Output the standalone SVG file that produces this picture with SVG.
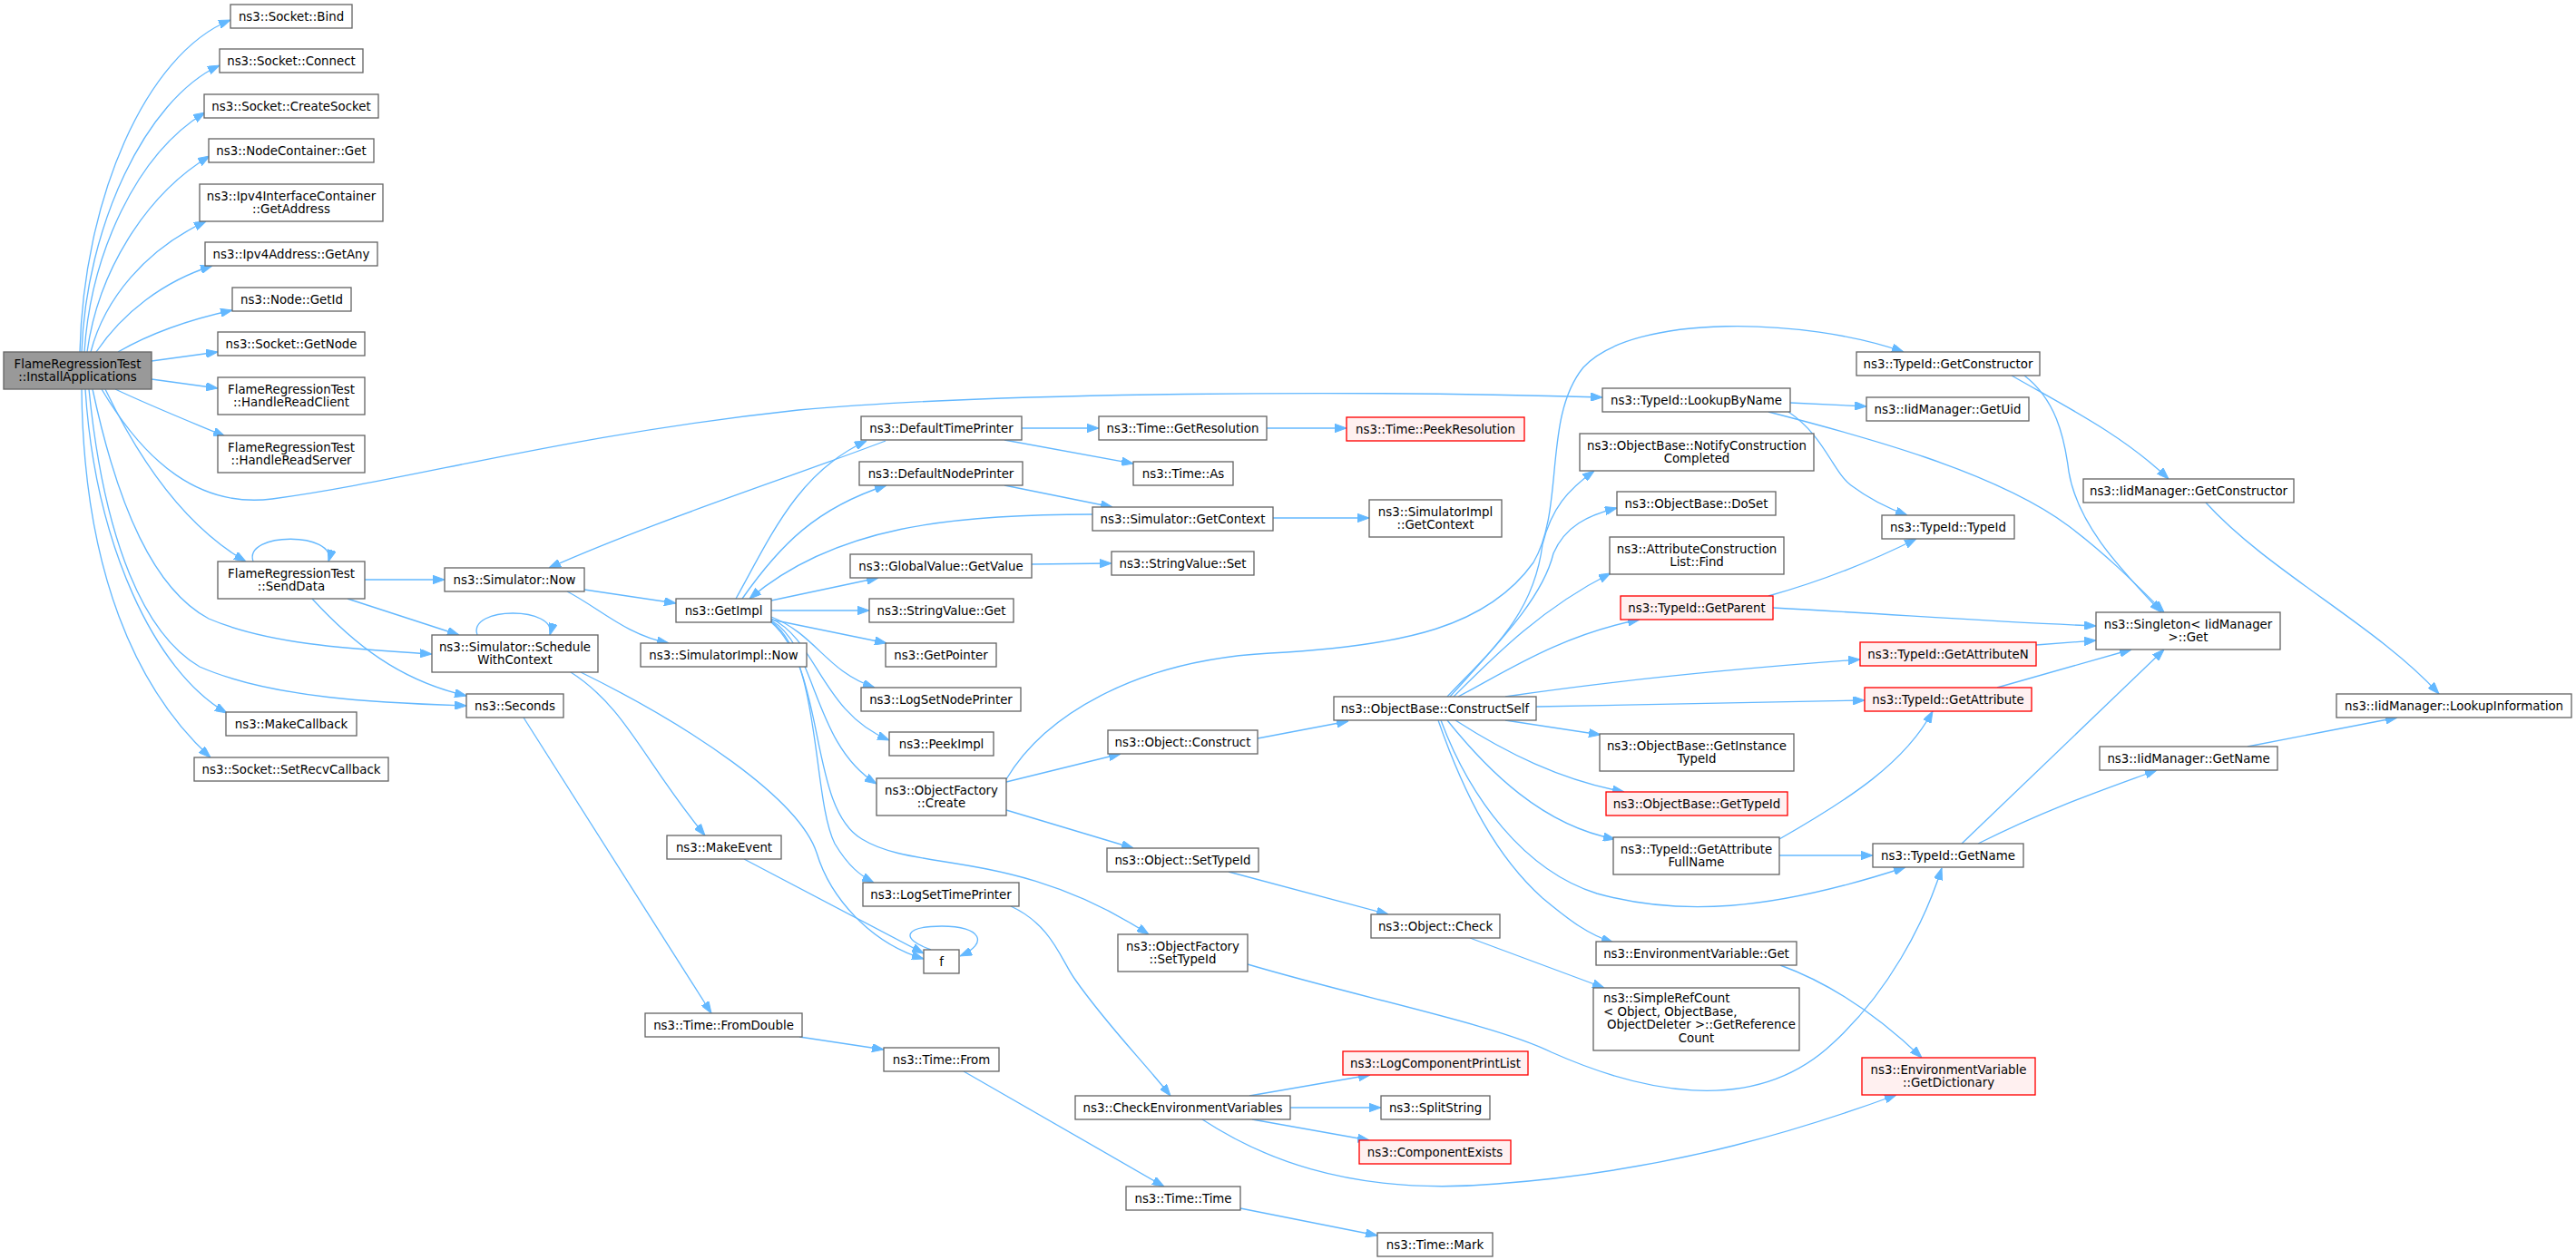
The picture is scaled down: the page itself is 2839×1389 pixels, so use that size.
<svg xmlns="http://www.w3.org/2000/svg" width="2839" height="1389" viewBox="0 0 2839 1389">
<style>
.n rect{fill:#ffffff;stroke:#666666;stroke-width:1.33}
.r rect{fill:#fff0f0;stroke:#ff0000;stroke-width:1.33}
.m rect{fill:#999999;stroke:#666666;stroke-width:1.33}
text{font-family:"DejaVu Sans","Liberation Sans",sans-serif;font-size:13.33px;fill:#000000;text-anchor:middle}
.e path{fill:none;stroke:#63b8ff;stroke-width:1.33;marker-end:url(#ah)}
</style>
<defs>
<marker id="ah" viewBox="0 0 13 9.4" refX="13" refY="4.7" markerWidth="13" markerHeight="9.4" markerUnits="userSpaceOnUse" orient="auto"><path d="M0,0 L13,4.7 L0,9.4 z" fill="#63b8ff" stroke="#63b8ff" stroke-width="1"/></marker>
</defs>
<rect x="0" y="0" width="2839" height="1389" fill="#ffffff"/>
<g id="edges" class="e">
<path d="M88,388 C92,220 160,60 254,22"/>
<path d="M90,388 C95,250 160,110 242,72"/>
<path d="M93,388 C100,280 150,170 226,124"/>
<path d="M96,388 C108,300 160,215 231,172"/>
<path d="M100,388 C115,330 160,275 227,244"/>
<path d="M106,388 C135,345 180,310 234,293"/>
<path d="M130,388 C170,365 210,352 256,342"/>
<path d="M167,398 L240,388"/>
<path d="M167,418 L240,428"/>
<path d="M127,429 C165,447 205,463 248,481"/>
<path d="M112,429 C160,510 220,560 300,550 C450,530 620,480 880,452 C1100,432 1500,430 1766,438"/>
<path d="M116,429 C150,500 200,578 271,619"/>
<path d="M102,429 C130,560 170,650 230,682 C300,712 400,716 476,721"/>
<path d="M98,429 C115,600 160,700 220,735 C300,770 420,775 514,778"/>
<path d="M94,429 C105,600 170,740 250,786"/>
<path d="M90,429 C92,630 150,760 232,835"/>
<path d="M279,619 C268,586 372,586 362,619"/>
<path d="M402,639 L490,639"/>
<path d="M383,660 L506,700"/>
<path d="M344,660 C390,710 440,750 514,767"/>
<path d="M644,650 L745,665"/>
<path d="M625,652 C660,670 690,700 737,709"/>
<path d="M976,486 C860,530 720,575 605,626"/>
<path d="M526,700 C515,668 615,668 606,700"/>
<path d="M629,741 C690,780 710,840 777,921"/>
<path d="M640,741 C760,800 880,880 900,940 C915,990 960,1040 1018,1057"/>
<path d="M577,791 L784,1117"/>
<path d="M811,660 C850,590 880,520 955,486"/>
<path d="M818,660 C860,600 900,560 977,535"/>
<path d="M1204,567 C1050,567 920,580 826,660"/>
<path d="M850,662 L968,637"/>
<path d="M850,673 L958,673"/>
<path d="M850,683 L977,709"/>
<path d="M850,680 C900,700 910,740 964,758"/>
<path d="M850,682 C900,705 905,785 980,816"/>
<path d="M850,684 C900,712 895,820 966,864"/>
<path d="M850,685 C905,725 895,880 920,930 C935,955 948,965 963,973"/>
<path d="M850,686 C912,740 890,890 950,925 C1010,962 1120,935 1266,1030"/>
<path d="M1126,472 L1211,472"/>
<path d="M1107,485 L1249,511"/>
<path d="M1107,535 L1226,559"/>
<path d="M1403,571 L1509,571"/>
<path d="M1396,472 L1484,472"/>
<path d="M1137,622 L1225,621"/>
<path d="M1109,862 L1235,831"/>
<path d="M1109,859 C1150,790 1250,728 1400,720 C1550,712 1640,690 1690,620 C1725,560 1700,460 1745,405 C1800,345 1990,350 2098,388"/>
<path d="M1109,893 L1249,935"/>
<path d="M1386,814 L1486,795"/>
<path d="M1354,961 L1530,1008"/>
<path d="M1375,1063 C1500,1100 1650,1130 1710,1160 C1800,1200 1930,1235 2020,1150 C2080,1095 2120,1020 2140,957"/>
<path d="M1114,999 C1160,1020 1170,1060 1185,1080 C1220,1130 1260,1170 1290,1208"/>
<path d="M1377,1208 L1510,1185"/>
<path d="M1422,1221 L1522,1221"/>
<path d="M1380,1234 L1509,1257"/>
<path d="M1325,1234 C1380,1270 1480,1320 1650,1305 C1850,1290 2000,1240 2090,1207"/>
<path d="M881,1143 L974,1157"/>
<path d="M1062,1181 L1283,1308"/>
<path d="M1367,1332 L1518,1362"/>
<path d="M820,947 L1018,1051"/>
<path d="M1026,1047 C990,1034 998,1021 1038,1021 C1082,1021 1090,1040 1058,1054"/>
<path d="M1595,768 C1640,720 1690,680 1700,600 C1710,560 1728,540 1757,519"/>
<path d="M1598,768 C1650,710 1700,660 1712,610 C1725,580 1750,568 1782,560"/>
<path d="M1602,768 C1650,720 1700,670 1775,632"/>
<path d="M1607,768 C1660,740 1720,700 1807,683"/>
<path d="M1659,768 C1780,750 1900,738 2050,727"/>
<path d="M1693,779 L2055,772"/>
<path d="M1659,794 L1764,810"/>
<path d="M1604,794 C1660,830 1720,860 1790,873"/>
<path d="M1595,794 C1640,850 1700,910 1780,925"/>
<path d="M1588,794 C1620,880 1680,960 1760,985 C1850,1010 1950,1005 2100,956"/>
<path d="M1585,794 C1615,880 1650,945 1700,990 C1730,1015 1750,1030 1778,1039"/>
<path d="M1961,943 L2064,943"/>
<path d="M1961,925 C2040,880 2100,840 2130,784"/>
<path d="M1620,1034 L1768,1089"/>
<path d="M1962,1064 C2020,1085 2070,1120 2118,1166"/>
<path d="M1973,444 L2057,448"/>
<path d="M1971,454 C2010,480 2020,520 2040,535 C2060,550 2080,560 2102,568"/>
<path d="M1949,454 C2050,480 2200,520 2280,580 C2320,610 2350,640 2385,675"/>
<path d="M1949,657 C2010,640 2060,620 2112,594"/>
<path d="M1954,670 C2100,678 2200,686 2310,690"/>
<path d="M2244,711 L2310,706"/>
<path d="M2201,758 L2349,716"/>
<path d="M2162,930 L2385,716"/>
<path d="M2180,930 C2260,890 2320,870 2377,849"/>
<path d="M2231,414 C2265,440 2275,480 2280,520 C2290,580 2340,630 2382,675"/>
<path d="M2217,414 C2280,450 2340,480 2390,528"/>
<path d="M2431,554 C2500,630 2620,690 2688,765"/>
<path d="M2477,823 L2642,791"/>
</g>
<g id="n_ia" class="m"><rect x="4" y="388" width="163" height="41"/><text x="85.5" y="406">FlameRegressionTest</text><text x="85.5" y="420.4">::InstallApplications</text></g>
<g id="n_bind" class="n"><rect x="254" y="5" width="134" height="26"/><text x="321" y="22.6">ns3::Socket::Bind</text></g>
<g id="n_connect" class="n"><rect x="242" y="54" width="158" height="26"/><text x="321" y="71.6">ns3::Socket::Connect</text></g>
<g id="n_createsocket" class="n"><rect x="225" y="104" width="192" height="26"/><text x="321" y="121.6">ns3::Socket::CreateSocket</text></g>
<g id="n_ncget" class="n"><rect x="230" y="153" width="182" height="26"/><text x="321" y="170.6">ns3::NodeContainer::Get</text></g>
<g id="n_getaddress" class="n"><rect x="220" y="203" width="202" height="41"/><text x="321" y="220.9">ns3::Ipv4InterfaceContainer</text><text x="321" y="235.4">::GetAddress</text></g>
<g id="n_getany" class="n"><rect x="226" y="267" width="190" height="26"/><text x="321" y="284.6">ns3::Ipv4Address::GetAny</text></g>
<g id="n_getid" class="n"><rect x="256" y="317" width="131" height="26"/><text x="321.5" y="334.6">ns3::Node::GetId</text></g>
<g id="n_getnode" class="n"><rect x="240" y="366" width="162" height="26"/><text x="321" y="383.6">ns3::Socket::GetNode</text></g>
<g id="n_hrc" class="n"><rect x="240" y="416" width="162" height="41"/><text x="321" y="433.9">FlameRegressionTest</text><text x="321" y="448.4">::HandleReadClient</text></g>
<g id="n_hrs" class="n"><rect x="240" y="480" width="162" height="41"/><text x="321" y="497.9">FlameRegressionTest</text><text x="321" y="512.4">::HandleReadServer</text></g>
<g id="n_senddata" class="n"><rect x="240" y="619" width="162" height="41"/><text x="321" y="636.9">FlameRegressionTest</text><text x="321" y="651.4">::SendData</text></g>
<g id="n_makecallback" class="n"><rect x="249" y="785" width="144" height="26"/><text x="321" y="802.6">ns3::MakeCallback</text></g>
<g id="n_setrecv" class="n"><rect x="214" y="835" width="214" height="26"/><text x="321" y="852.6">ns3::Socket::SetRecvCallback</text></g>
<g id="n_now" class="n"><rect x="490" y="626" width="154" height="26"/><text x="567" y="643.6">ns3::Simulator::Now</text></g>
<g id="n_schedule" class="n"><rect x="476" y="700" width="183" height="41"/><text x="567.5" y="717.9">ns3::Simulator::Schedule</text><text x="567.5" y="732.4">WithContext</text></g>
<g id="n_seconds" class="n"><rect x="514" y="765" width="107" height="26"/><text x="567.5" y="782.6">ns3::Seconds</text></g>
<g id="n_getimpl" class="n"><rect x="745" y="660" width="105" height="26"/><text x="797.5" y="677.6">ns3::GetImpl</text></g>
<g id="n_simimplnow" class="n"><rect x="706" y="709" width="183" height="26"/><text x="797.5" y="726.6">ns3::SimulatorImpl::Now</text></g>
<g id="n_makeevent" class="n"><rect x="735" y="921" width="126" height="26"/><text x="798" y="938.6">ns3::MakeEvent</text></g>
<g id="n_fromdouble" class="n"><rect x="711" y="1117" width="173" height="26"/><text x="797.5" y="1134.6">ns3::Time::FromDouble</text></g>
<g id="n_dtp" class="n"><rect x="949" y="459" width="177" height="26"/><text x="1037.5" y="476.6">ns3::DefaultTimePrinter</text></g>
<g id="n_dnp" class="n"><rect x="947" y="509" width="180" height="26"/><text x="1037" y="526.6">ns3::DefaultNodePrinter</text></g>
<g id="n_gvgetvalue" class="n"><rect x="937" y="611" width="200" height="26"/><text x="1037" y="628.6">ns3::GlobalValue::GetValue</text></g>
<g id="n_svget" class="n"><rect x="958" y="660" width="159" height="26"/><text x="1037.5" y="677.6">ns3::StringValue::Get</text></g>
<g id="n_getpointer" class="n"><rect x="976" y="709" width="122" height="26"/><text x="1037" y="726.6">ns3::GetPointer</text></g>
<g id="n_logsetnode" class="n"><rect x="949" y="758" width="176" height="26"/><text x="1037" y="775.6">ns3::LogSetNodePrinter</text></g>
<g id="n_peekimpl" class="n"><rect x="980" y="807" width="115" height="26"/><text x="1037.5" y="824.6">ns3::PeekImpl</text></g>
<g id="n_ofcreate" class="n"><rect x="966" y="858" width="143" height="41"/><text x="1037.5" y="875.9">ns3::ObjectFactory</text><text x="1037.5" y="890.4">::Create</text></g>
<g id="n_logsettime" class="n"><rect x="951" y="973" width="172" height="26"/><text x="1037" y="990.6">ns3::LogSetTimePrinter</text></g>
<g id="n_f" class="n"><rect x="1018" y="1047" width="39" height="26"/><text x="1037.5" y="1064.6">f</text></g>
<g id="n_timefrom" class="n"><rect x="974" y="1155" width="127" height="26"/><text x="1037.5" y="1172.6">ns3::Time::From</text></g>
<g id="n_getres" class="n"><rect x="1211" y="459" width="185" height="26"/><text x="1303.5" y="476.6">ns3::Time::GetResolution</text></g>
<g id="n_timeas" class="n"><rect x="1249" y="509" width="110" height="26"/><text x="1304" y="526.6">ns3::Time::As</text></g>
<g id="n_simgetctx" class="n"><rect x="1204" y="559" width="199" height="26"/><text x="1303.5" y="576.6">ns3::Simulator::GetContext</text></g>
<g id="n_svset" class="n"><rect x="1225" y="608" width="157" height="26"/><text x="1303.5" y="625.6">ns3::StringValue::Set</text></g>
<g id="n_objconstruct" class="n"><rect x="1221" y="805" width="165" height="26"/><text x="1303.5" y="822.6">ns3::Object::Construct</text></g>
<g id="n_objsettypeid" class="n"><rect x="1220" y="935" width="167" height="26"/><text x="1303.5" y="952.6">ns3::Object::SetTypeId</text></g>
<g id="n_ofsettypeid" class="n"><rect x="1232" y="1030" width="143" height="41"/><text x="1303.5" y="1047.9">ns3::ObjectFactory</text><text x="1303.5" y="1062.4">::SetTypeId</text></g>
<g id="n_checkenv" class="n"><rect x="1185" y="1208" width="237" height="26"/><text x="1303.5" y="1225.6">ns3::CheckEnvironmentVariables</text></g>
<g id="n_timetime" class="n"><rect x="1241" y="1308" width="126" height="26"/><text x="1304" y="1325.6">ns3::Time::Time</text></g>
<g id="n_peekres" class="r"><rect x="1484" y="460" width="196" height="26"/><text x="1582" y="477.6">ns3::Time::PeekResolution</text></g>
<g id="n_simimplctx" class="n"><rect x="1509" y="551" width="146" height="41"/><text x="1582" y="568.9">ns3::SimulatorImpl</text><text x="1582" y="583.4">::GetContext</text></g>
<g id="n_constructself" class="n"><rect x="1470" y="768" width="223" height="26"/><text x="1581.5" y="785.6">ns3::ObjectBase::ConstructSelf</text></g>
<g id="n_objcheck" class="n"><rect x="1511" y="1008" width="142" height="26"/><text x="1582" y="1025.6">ns3::Object::Check</text></g>
<g id="n_logcomp" class="r"><rect x="1480" y="1159" width="204" height="26"/><text x="1582" y="1176.6">ns3::LogComponentPrintList</text></g>
<g id="n_split" class="n"><rect x="1522" y="1208" width="120" height="26"/><text x="1582" y="1225.6">ns3::SplitString</text></g>
<g id="n_compexists" class="r"><rect x="1498" y="1257" width="167" height="26"/><text x="1581.5" y="1274.6">ns3::ComponentExists</text></g>
<g id="n_timemark" class="n"><rect x="1518" y="1359" width="127" height="26"/><text x="1581.5" y="1376.6">ns3::Time::Mark</text></g>
<g id="n_lookupbyname" class="n"><rect x="1766" y="428" width="207" height="26"/><text x="1869.5" y="445.6">ns3::TypeId::LookupByName</text></g>
<g id="n_notifycc" class="n"><rect x="1741" y="478" width="258" height="41"/><text x="1870" y="495.9">ns3::ObjectBase::NotifyConstruction</text><text x="1870" y="510.4">Completed</text></g>
<g id="n_doset" class="n"><rect x="1782" y="542" width="175" height="26"/><text x="1869.5" y="559.6">ns3::ObjectBase::DoSet</text></g>
<g id="n_acl" class="n"><rect x="1774" y="592" width="192" height="41"/><text x="1870" y="609.9">ns3::AttributeConstruction</text><text x="1870" y="624.4">List::Find</text></g>
<g id="n_getparent" class="r"><rect x="1786" y="657" width="168" height="26"/><text x="1870" y="674.6">ns3::TypeId::GetParent</text></g>
<g id="n_getinsttypeid" class="n"><rect x="1763" y="809" width="214" height="41"/><text x="1870" y="826.9">ns3::ObjectBase::GetInstance</text><text x="1870" y="841.4">TypeId</text></g>
<g id="n_obgettypeid" class="r"><rect x="1770" y="873" width="200" height="26"/><text x="1870" y="890.6">ns3::ObjectBase::GetTypeId</text></g>
<g id="n_gafn" class="n"><rect x="1778" y="923" width="183" height="41"/><text x="1869.5" y="940.9">ns3::TypeId::GetAttribute</text><text x="1869.5" y="955.4">FullName</text></g>
<g id="n_envget" class="n"><rect x="1759" y="1038" width="221" height="26"/><text x="1869.5" y="1055.6">ns3::EnvironmentVariable::Get</text></g>
<g id="n_simplerefcount" class="n"><rect x="1756" y="1089" width="227" height="69"/><text x="1767" y="1105" style="text-anchor:start">ns3::SimpleRefCount</text><text x="1767" y="1119.5" style="text-anchor:start">&lt; Object, ObjectBase,</text><text x="1771" y="1134" style="text-anchor:start">ObjectDeleter &gt;::GetReference</text><text x="1869.5" y="1148.5">Count</text></g>
<g id="n_getconstructor" class="n"><rect x="2046" y="388" width="202" height="26"/><text x="2147" y="405.6">ns3::TypeId::GetConstructor</text></g>
<g id="n_getuid" class="n"><rect x="2057" y="438" width="179" height="26"/><text x="2146.5" y="455.6">ns3::IidManager::GetUid</text></g>
<g id="n_typeid" class="n"><rect x="2074" y="568" width="146" height="26"/><text x="2147" y="585.6">ns3::TypeId::TypeId</text></g>
<g id="n_getattrn" class="r"><rect x="2050" y="708" width="194" height="26"/><text x="2147" y="725.6">ns3::TypeId::GetAttributeN</text></g>
<g id="n_getattr" class="r"><rect x="2055" y="758" width="184" height="26"/><text x="2147" y="775.6">ns3::TypeId::GetAttribute</text></g>
<g id="n_getname" class="n"><rect x="2064" y="930" width="166" height="26"/><text x="2147" y="947.6">ns3::TypeId::GetName</text></g>
<g id="n_getdict" class="r"><rect x="2052" y="1166" width="191" height="41"/><text x="2147.5" y="1183.9">ns3::EnvironmentVariable</text><text x="2147.5" y="1198.4">::GetDictionary</text></g>
<g id="n_imgc" class="n"><rect x="2296" y="528" width="232" height="26"/><text x="2412" y="545.6">ns3::IidManager::GetConstructor</text></g>
<g id="n_singleton" class="n"><rect x="2310" y="675" width="203" height="41"/><text x="2411.5" y="692.9">ns3::Singleton&lt; IidManager</text><text x="2411.5" y="707.4">&gt;::Get</text></g>
<g id="n_imgn" class="n"><rect x="2314" y="823" width="196" height="26"/><text x="2412" y="840.6">ns3::IidManager::GetName</text></g>
<g id="n_lookupinfo" class="n"><rect x="2575" y="765" width="259" height="26"/><text x="2704.5" y="782.6">ns3::IidManager::LookupInformation</text></g>
</svg>
